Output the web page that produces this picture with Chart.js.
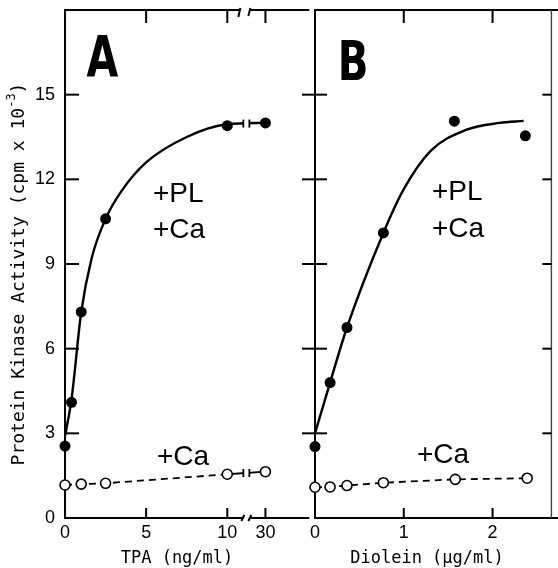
<!DOCTYPE html>
<html>
<head>
<meta charset="utf-8">
<script src="https://cdn.jsdelivr.net/npm/chart.js@4.4.1/dist/chart.umd.min.js"></script>
<style>
html,body{margin:0;padding:0;background:#fff;}
#wrap{position:relative;width:558px;height:568px;overflow:hidden;background:#fff;}
#ca{position:absolute;left:0;top:0;}
#cb{position:absolute;left:280px;top:0;}
</style>
</head>
<body>
<div id="wrap">
<canvas id="ca" width="316" height="568"></canvas>
<canvas id="cb" width="278" height="568"></canvas>
</div>
<script>
// ---- Data ----
// Panel A: TPA (ng/ml)
const tpaFilledX = [0, 0.4, 1, 2.5, 10, 30];
const tpaFilledY = [2.55, 4.1, 7.3, 10.6, 13.9, 14.0];
const tpaCurveX = [0, 0.4, 1, 1.64, 2.5, 3.5, 5, 7.5, 10, 30];
const tpaCurveY = [2.9, 4.2, 7.3, 9.2, 10.6, 11.6, 12.6, 13.5, 13.95, 14.0];
const tpaOpenX = [0, 1, 2.5, 10, 30];
const tpaOpenY = [1.17, 1.2, 1.23, 1.55, 1.64];
const tpaTicks = [0, 5, 10, 30];
// Panel B: Diolein (ug/ml)
const dioFilledX = [0, 0.17, 0.36, 0.77, 1.57, 2.37];
const dioFilledY = [2.53, 4.8, 6.75, 10.1, 14.06, 13.54];
const dioCurveX = [0, 0.17, 0.36, 0.77, 1.0, 1.3, 1.7, 2.08, 2.35];
const dioCurveY = [3.0, 4.8, 6.75, 10.1, 11.65, 13.0, 13.75, 14.0, 14.07];
const dioOpenX = [0, 0.17, 0.36, 0.77, 1.58, 2.39];
const dioOpenY = [1.09, 1.1, 1.15, 1.25, 1.37, 1.41];
const dioTicks = [0, 1, 2];
const yTicks = [0, 3, 6, 9, 12, 15];

// broken TPA axis: values above 10 are compressed
const brk = x => x <= 10 ? x : 10 + (x - 10) * 0.1175;

const SANS = '"Liberation Sans", Arial, sans-serif';
const NARROW = '"Liberation Sans Narrow", "DejaVu Sans Condensed", "Liberation Sans", sans-serif';
const MONO = '"DejaVu Sans Mono", "Liberation Mono", monospace';
const pts = (xs, ys, f) => xs.map((x, i) => ({x: f ? f(x) : x, y: ys[i]}));

function line(ctx, x1, y1, x2, y2) { ctx.beginPath(); ctx.moveTo(x1, y1); ctx.lineTo(x2, y2); ctx.stroke(); }
function bigLetter(ctx, t, cx, base, size) {
  ctx.save();
  ctx.translate(cx, base); ctx.scale(0.8, 1);
  ctx.textAlign = 'center'; ctx.textBaseline = 'alphabetic';
  ctx.font = 'bold ' + size + 'px ' + NARROW;
  ctx.fillText(t, 0, 0);
  ctx.restore();
}
function noPad(s) { s.paddingTop = 0; s.paddingBottom = 0; s.paddingLeft = 0; s.paddingRight = 0; }

function datasets(curve, open, filled, lastBreak) {
  const nOpen = open.length;
  return [
    {data: curve, showLine: true, borderColor: '#000', borderWidth: 2.4, pointRadius: 0,
     cubicInterpolationMode: 'monotone', fill: false, clip: false},
    {data: open, showLine: true, borderColor: '#000', borderWidth: 1.8, borderDash: [7, 5],
     segment: {borderDash: c => (lastBreak && c.p1DataIndex === nOpen - 1) ? [] : [7, 5]},
     pointRadius: 5, pointBackgroundColor: '#fff', pointBorderColor: '#000', pointBorderWidth: 1.6, clip: false},
    {data: filled, showLine: false, pointRadius: 5.5, pointBackgroundColor: '#000',
     pointBorderColor: '#000', pointBorderWidth: 0, clip: false}
  ];
}

// ---- Panel A ----
const frameA = {
  id: 'frameA',
  beforeDatasetsDraw(chart) {
    const ctx = chart.ctx, a = chart.chartArea, xs = chart.scales.x, ys = chart.scales.y;
    const bx = xs.getPixelForValue(brk(20));
    ctx.save();
    ctx.strokeStyle = '#000'; ctx.lineWidth = 2;
    line(ctx, a.left, a.top - 1, a.left, a.bottom + 1);
    // bottom axis with break
    line(ctx, a.left, a.bottom, bx - 3, a.bottom);
    line(ctx, bx - 5, a.bottom + 3, bx - 2, a.bottom - 3);
    line(ctx, bx + 4, a.bottom, a.right, a.bottom);
    line(ctx, bx + 2, a.bottom + 3, bx + 5, a.bottom - 3);
    // top axis with break
    line(ctx, a.left, a.top, bx - 7, a.top);
    line(ctx, bx - 8, a.top + 7, bx - 6, a.top - 2);
    line(ctx, bx + 3, a.top, a.right, a.top);
    line(ctx, bx + 2, a.top + 6, bx + 4, a.top - 2);
    tpaTicks.forEach(v => {
      if (v === 0) return;
      const x = xs.getPixelForValue(brk(v));
      line(ctx, x, a.bottom, x, a.bottom - 10);
      line(ctx, x, a.top, x, a.top + 13);
    });
    yTicks.forEach(v => {
      if (v === 0) return;
      const y = ys.getPixelForValue(v);
      line(ctx, a.left, y, a.left + 14, y);
    });
    ctx.restore();
  },
  afterDatasetsDraw(chart) {
    const ctx = chart.ctx, xs = chart.scales.x, ys = chart.scales.y;
    const bx = xs.getPixelForValue(brk(20));
    ctx.save();
    [[tpaCurveY[tpaCurveY.length - 2], tpaCurveY[tpaCurveY.length - 1]],
     [tpaOpenY[tpaOpenY.length - 2], tpaOpenY[tpaOpenY.length - 1]]].forEach(([y0, y1]) => {
      const y = ys.getPixelForValue((y0 + y1) / 2);
      ctx.fillStyle = '#fff';
      ctx.fillRect(bx - 3, y - 4, 6, 8);
      ctx.strokeStyle = '#000'; ctx.lineWidth = 1.8;
      line(ctx, bx - 3, y - 4, bx - 3, y + 4);
      line(ctx, bx + 3, y - 4, bx + 3, y + 4);
    });
    ctx.restore();
  },
  afterDraw(chart) {
    const ctx = chart.ctx;
    ctx.save();
    ctx.fillStyle = '#000';
    bigLetter(ctx, 'A', 102.5, 77, 57);
    ctx.textAlign = 'left'; ctx.textBaseline = 'alphabetic';
    ctx.font = '28px ' + SANS;
    ctx.fillText('+PL', 153, 202);
    ctx.fillText('+Ca', 153, 238);
    ctx.fillText('+Ca', 157, 465);
    ctx.textAlign = 'center';
    ctx.font = '17px ' + MONO;
    ctx.fillText('TPA (ng/ml)', 177, 563);
    // y title with superscript
    ctx.translate(19, 274);
    ctx.rotate(-Math.PI / 2);
    ctx.textBaseline = 'middle'; ctx.textAlign = 'left';
    const t1 = 'Protein Kinase Activity (cpm x 10', t2 = '-3', t3 = ')';
    ctx.font = '18px ' + MONO; const w1 = ctx.measureText(t1).width, w3 = ctx.measureText(t3).width;
    ctx.font = '12px ' + MONO; const w2 = ctx.measureText(t2).width;
    let x = -(w1 + w2 + w3) / 2;
    ctx.font = '18px ' + MONO; ctx.fillText(t1, x, 0); x += w1;
    ctx.font = '12px ' + MONO; ctx.fillText(t2, x, -7); x += w2;
    ctx.font = '18px ' + MONO; ctx.fillText(t3, x, 0);
    ctx.restore();
  }
};

new Chart(document.getElementById('ca'), {
  type: 'scatter',
  data: {datasets: datasets(pts(tpaCurveX, tpaCurveY, brk), pts(tpaOpenX, tpaOpenY, brk), pts(tpaFilledX, tpaFilledY, brk), true)},
  options: {
    responsive: false, animation: false,
    layout: {padding: {top: 10, right: 1, left: 0, bottom: 0}},
    plugins: {legend: {display: false}, tooltip: {enabled: false}},
    scales: {
      x: {type: 'linear', min: 0, max: 15.06,
          grid: {display: false, drawTicks: false}, border: {display: false},
          afterBuildTicks: s => { s.ticks = tpaTicks.map(v => ({value: brk(v)})); },
          ticks: {callback: (v, i) => String(tpaTicks[i]), color: '#000', padding: 4,
                  font: {family: SANS, size: 18}, maxRotation: 0, autoSkip: false},
          afterFit: s => { s.height = 50; noPad(s); }},
      y: {type: 'linear', min: 0, max: 18,
          grid: {display: false, drawTicks: false}, border: {display: false},
          afterBuildTicks: s => { s.ticks = yTicks.map(v => ({value: v})); },
          ticks: {color: '#000', padding: 10, font: {family: SANS, size: 18}},
          afterFit: s => { s.width = 65; noPad(s); }}
    }
  },
  plugins: [frameA]
});

// ---- Panel B ----
const frameB = {
  id: 'frameB',
  beforeDatasetsDraw(chart) {
    const ctx = chart.ctx, a = chart.chartArea, xs = chart.scales.x, ys = chart.scales.y;
    ctx.save();
    ctx.strokeStyle = '#000'; ctx.lineWidth = 2;
    line(ctx, a.left, a.top - 1, a.left, a.bottom + 1);
    line(ctx, a.left, a.bottom, chart.width, a.bottom);
    line(ctx, a.left, a.top, chart.width, a.top);
    ctx.lineWidth = 1.4; ctx.strokeStyle = '#444';
    line(ctx, a.right, a.top, a.right, a.bottom);
    ctx.strokeStyle = '#000'; ctx.lineWidth = 2;
    dioTicks.forEach(v => {
      if (v === 0) return;
      const x = xs.getPixelForValue(v);
      line(ctx, x, a.bottom, x, a.bottom - 10);
      line(ctx, x, a.top, x, a.top + 13);
    });
    yTicks.forEach(v => {
      if (v === 0) return;
      const y = ys.getPixelForValue(v);
      line(ctx, a.left - 13, y, a.left + 12, y);
      line(ctx, a.right - 9, y, a.right, y);
    });
    ctx.restore();
  },
  afterDraw(chart) {
    const ctx = chart.ctx, o = 280;
    ctx.save();
    ctx.fillStyle = '#000';
    bigLetter(ctx, 'B', 353 - o, 80, 56);
    ctx.textAlign = 'left'; ctx.textBaseline = 'alphabetic';
    ctx.font = '28px ' + SANS;
    ctx.fillText('+PL', 432 - o, 200);
    ctx.fillText('+Ca', 432 - o, 237);
    ctx.fillText('+Ca', 417 - o, 463);
    ctx.textAlign = 'center';
    ctx.font = '17px ' + MONO;
    ctx.fillText('Diolein (\u00b5g/ml)', 427 - o, 563);
    ctx.restore();
  }
};

new Chart(document.getElementById('cb'), {
  type: 'scatter',
  data: {datasets: datasets(pts(dioCurveX, dioCurveY), pts(dioOpenX, dioOpenY), pts(dioFilledX, dioFilledY), false)},
  options: {
    responsive: false, animation: false,
    layout: {padding: {top: 10, right: 2, left: 0, bottom: 0}},
    plugins: {legend: {display: false}, tooltip: {enabled: false}},
    scales: {
      x: {type: 'linear', min: 0, max: 2.663,
          grid: {display: false, drawTicks: false}, border: {display: false},
          afterBuildTicks: s => { s.ticks = dioTicks.map(v => ({value: v})); },
          ticks: {callback: (v, i) => String(dioTicks[i]), color: '#000', padding: 4,
                  font: {family: SANS, size: 18}, maxRotation: 0, autoSkip: false},
          afterFit: s => { s.height = 50; noPad(s); }},
      y: {type: 'linear', min: 0, max: 18,
          grid: {display: false, drawTicks: false}, border: {display: false},
          afterBuildTicks: s => { s.ticks = yTicks.map(v => ({value: v})); },
          ticks: {display: false},
          afterFit: s => { s.width = 35; noPad(s); }}
    }
  },
  plugins: [frameB]
});
</script>
</body>
</html>
